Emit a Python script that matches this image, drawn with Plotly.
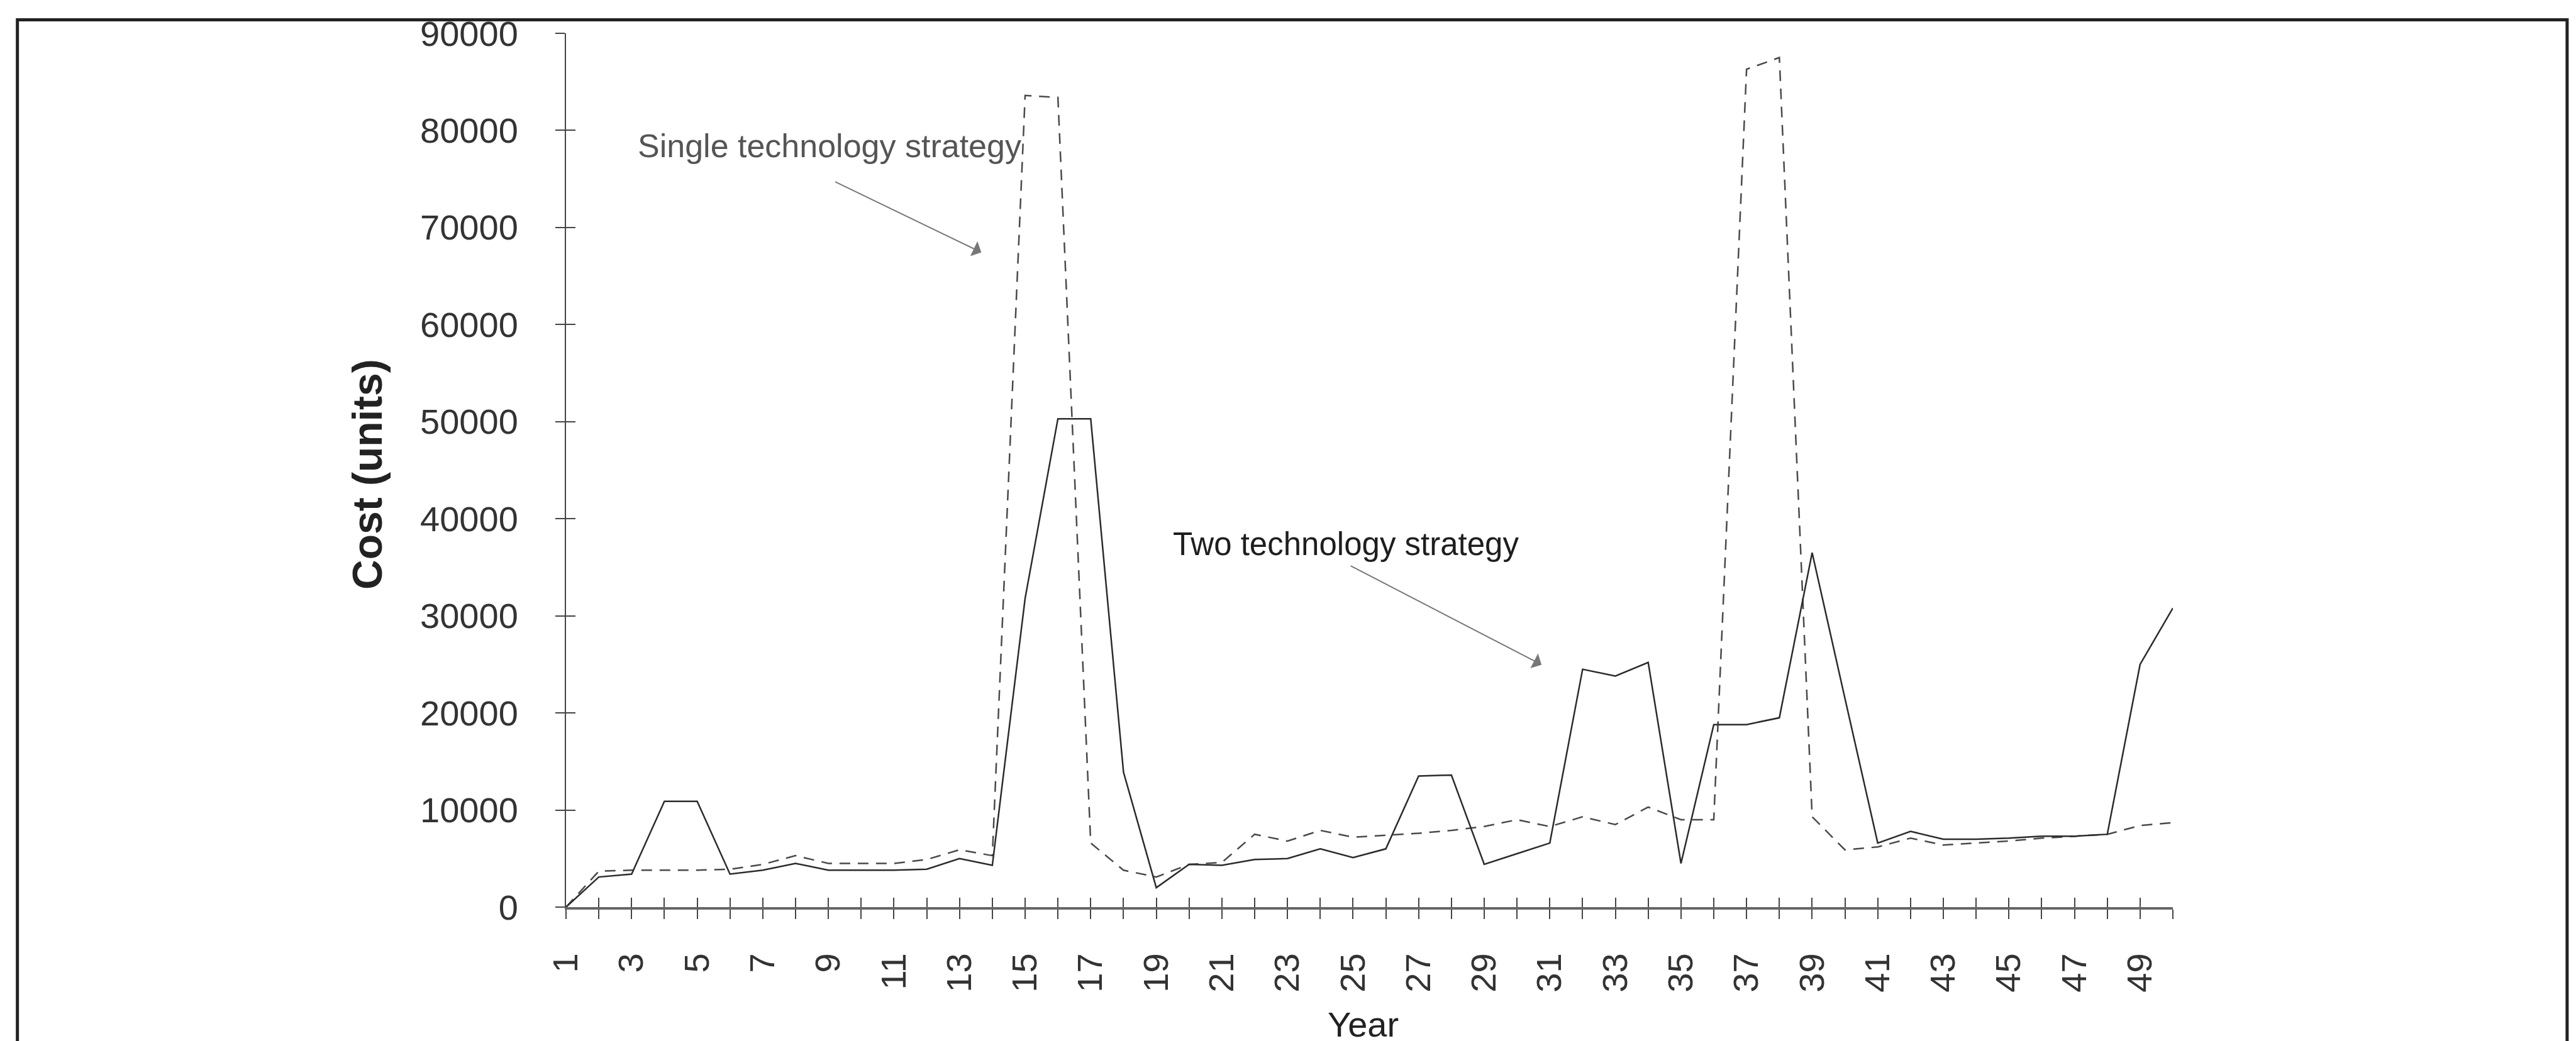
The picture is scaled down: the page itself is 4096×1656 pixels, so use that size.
import plotly.graph_objects as go

# ---------------- data ----------------
years = list(range(1, 51))

single_tech_cost = [
    0, 3700, 3800, 3800, 3800, 3900, 4400, 5300, 4500, 4500,
    4500, 4900, 5900, 5300, 83600, 83400, 6600, 3800, 3100, 4400,
    4600, 7500, 6800, 7900, 7200, 7400, 7600, 7900, 8300, 9000,
    8300, 9300, 8500, 10300, 9000, 9000, 86300, 87500, 9300, 5900,
    6200, 7100, 6400, 6600, 6800, 7100, 7300, 7500, 8400, 8700,
]

two_tech_cost = [
    0, 3100, 3400, 10900, 10900, 3400, 3800, 4500, 3800, 3800,
    3800, 3900, 5000, 4300, 31800, 50300, 50300, 13900, 2000, 4400,
    4300, 4900, 5000, 6000, 5100, 6000, 13500, 13600, 4400, 5500,
    6600, 24500, 23800, 25200, 4500, 18800, 18800, 19500, 36500, 21500,
    6600, 7800, 7000, 7000, 7100, 7300, 7300, 7500, 25000, 30800,
]

x_tick_text = [str(y) if y % 2 == 1 else "" for y in years]
y_tick_vals = [0, 10000, 20000, 30000, 40000, 50000, 60000, 70000, 80000, 90000]
y_tick_text = [str(v) for v in y_tick_vals]

# ---------------- layout geometry ----------------
W, H = 4096, 1656
L, R, T, B = 891.5, 649, 44.6, 221.4
PW, PH = W - L - R, H - T - B
FONT = "Liberation Sans, Arial, sans-serif"


def px(xp):
    return (xp - L) / PW


def py(yp):
    return (H - B - yp) / PH


fig = go.Figure()

fig.add_trace(go.Scatter(
    x=years, y=single_tech_cost, mode="lines", name="Single technology strategy",
    line=dict(color="#4a4a4a", width=2.5, dash="17px,12px"),
    showlegend=False, hoverinfo="skip",
))
fig.add_trace(go.Scatter(
    x=years, y=two_tech_cost, mode="lines", name="Two technology strategy",
    line=dict(color="#2b2b2b", width=2.5),
    showlegend=False, hoverinfo="skip",
))
# helper trace on the overlay axes (used only to draw the inner half of the crossing ticks)
fig.add_trace(go.Scatter(
    x=years, y=two_tech_cost, mode="lines", xaxis="x2", yaxis="y2",
    line=dict(width=0), opacity=0, showlegend=False, hoverinfo="skip",
))

tickfont = dict(family=FONT, size=56, color="#333333")

fig.update_layout(
    width=W, height=H,
    margin=dict(l=L, r=R, t=T, b=B, pad=0),
    paper_bgcolor="white", plot_bgcolor="white",
    showlegend=False,
    xaxis=dict(
        range=[1, 50], tickmode="array", tickvals=years, ticktext=x_tick_text,
        tickangle=-90, tickfont=tickfont, ticks="outside", ticklen=15,
        tickwidth=2, tickcolor="#444444", showline=True, linecolor="#666666",
        linewidth=4, showgrid=False, zeroline=False, ticklabelstandoff=32,
    ),
    xaxis2=dict(
        range=[1, 50], overlaying="x", anchor="y", side="bottom",
        tickmode="array", tickvals=years, ticks="inside", ticklen=15,
        tickwidth=2, tickcolor="#444444", showticklabels=False,
        showline=False, showgrid=False, zeroline=False,
    ),
    yaxis=dict(
        range=[0, 90000], tickmode="array", tickvals=y_tick_vals,
        ticktext=y_tick_text, tickfont=tickfont, ticks="outside", ticklen=15,
        tickwidth=2, tickcolor="#444444", showline=True, linecolor="#444444",
        linewidth=2, showgrid=False, zeroline=False, ticklabelstandoff=48,
    ),
    yaxis2=dict(
        range=[0, 90000], overlaying="y", anchor="x", side="left",
        tickmode="array", tickvals=y_tick_vals, ticks="inside", ticklen=15,
        tickwidth=2, tickcolor="#444444", showticklabels=False,
        showline=False, showgrid=False, zeroline=False,
    ),
)

annotations = [
    # axis titles
    dict(text="<b>Cost (units)</b>", x=px(576), y=py(746), xref="paper", yref="paper",
         textangle=-90, showarrow=False, xanchor="center", yanchor="middle",
         font=dict(family=FONT, size=66, color="#222222")),
    dict(text="Year", x=px(2159), y=py(1621), xref="paper", yref="paper",
         showarrow=False, xanchor="center", yanchor="middle",
         font=dict(family=FONT, size=56, color="#222222")),
    # series labels
    dict(text="Single technology strategy", x=px(1004), y=py(224), xref="paper", yref="paper",
         showarrow=False, xanchor="left", yanchor="middle",
         font=dict(family=FONT, size=52, color="#555555")),
    dict(text="Two technology strategy", x=px(1855), y=py(857), xref="paper", yref="paper",
         showarrow=False, xanchor="left", yanchor="middle",
         font=dict(family=FONT, size=51, color="#1e1e1e")),
    # arrows
    dict(text="", x=px(1552), y=py(393), xref="paper", yref="paper",
         ax=1318 - 1552, ay=280 - 393, showarrow=True, arrowhead=1,
         arrowsize=2.2, arrowwidth=2, arrowcolor="#777777"),
    dict(text="", x=px(2443), y=py(1049), xref="paper", yref="paper",
         ax=2138 - 2443, ay=891 - 1049, showarrow=True, arrowhead=1,
         arrowsize=2.2, arrowwidth=2, arrowcolor="#777777"),
]
fig.update_layout(annotations=annotations)

# outer frame
fig.add_shape(type="rect", xref="paper", yref="paper",
              x0=px(19), x1=px(4074), y0=py(1651), y1=py(23),
              line=dict(color="#222222", width=5), fillcolor="rgba(0,0,0,0)", layer="above")

fig.write_html("out.html")
